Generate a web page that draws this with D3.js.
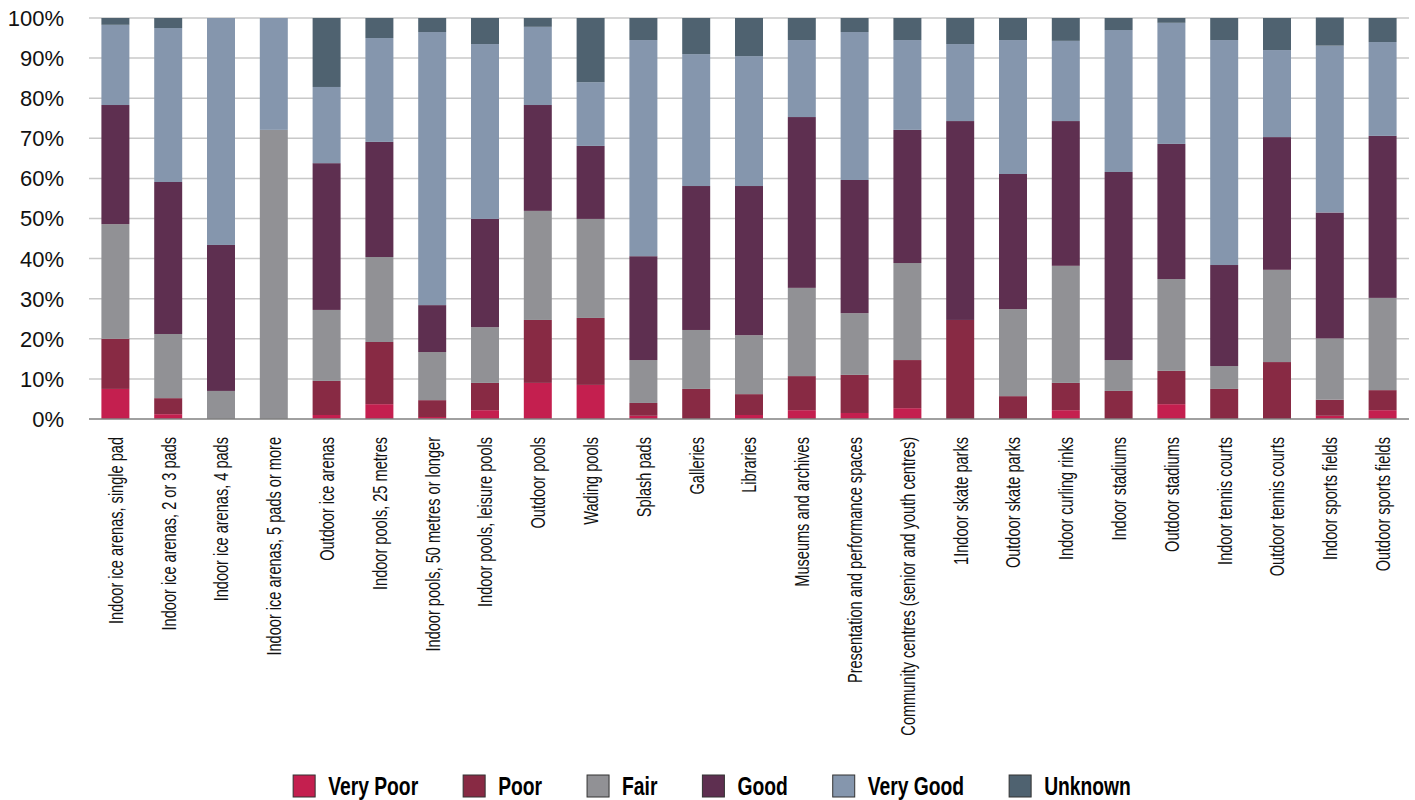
<!DOCTYPE html>
<html>
<head>
<meta charset="utf-8">
<script src="https://cdn.jsdelivr.net/npm/d3@7"></script>
<style>
  html, body { margin: 0; padding: 0; background: #fff; }
  svg { display: block; }
</style>
</head>
<body>
<svg id="chart" width="1415" height="800"></svg>
<script>
const categories = [
  "Indoor ice arenas, single pad",
  "Indoor ice arenas, 2 or 3 pads",
  "Indoor ice arenas, 4 pads",
  "Indoor ice arenas, 5 pads or more",
  "Outdoor ice arenas",
  "Indoor pools, 25 metres",
  "Indoor pools, 50 metres or longer",
  "Indoor pools, leisure pools",
  "Outdoor pools",
  "Wading pools",
  "Splash pads",
  "Galleries",
  "Libraries",
  "Museums and archives",
  "Presentation and performance spaces",
  "Community centres (senior and youth centres)",
  "1Indoor skate parks",
  "Outdoor skate parks",
  "Indoor curling rinks",
  "Indoor stadiums",
  "Outdoor stadiums",
  "Indoor tennis courts",
  "Outdoor tennis courts",
  "Indoor sports fields",
  "Outdoor sports fields"
];
const seriesNames = ["Very Poor", "Poor", "Fair", "Good", "Very Good", "Unknown"];
const veryPoor = [7.5, 1.2, 0, 0, 1.0, 3.7, 0.5, 2.2, 9.0, 8.5, 0.8, 0, 1.0, 2.2, 1.5, 2.7, 0, 0, 2.2, 0, 3.7, 0, 0, 0.8, 2.2];
const poor     = [12.5, 4.0, 0, 0, 8.5, 15.5, 4.2, 6.8, 15.7, 16.7, 3.2, 7.5, 5.2, 8.5, 9.5, 12.0, 24.7, 5.7, 6.8, 7.0, 8.3, 7.5, 14.2, 4.0, 5.0];
const fair     = [28.6, 16.0, 7.0, 72.1, 17.7, 21.2, 12.0, 13.9, 27.2, 24.7, 10.7, 14.7, 14.7, 22.0, 15.4, 24.2, 0, 21.7, 29.2, 7.7, 22.9, 5.7, 23.0, 15.3, 23.0];
const good     = [29.7, 37.9, 36.4, 0, 36.6, 28.7, 11.7, 27.0, 26.4, 18.2, 25.9, 35.9, 37.2, 42.6, 33.2, 33.2, 49.6, 33.7, 36.1, 46.9, 33.7, 25.2, 33.1, 31.4, 40.4];
const veryGood = [20.0, 38.4, 56.6, 27.9, 19.0, 25.9, 68.1, 43.6, 19.5, 15.9, 53.9, 32.9, 32.4, 19.2, 36.9, 22.4, 19.2, 33.4, 20.0, 35.4, 30.2, 56.1, 21.7, 41.6, 23.4];
const unknown  = [1.7, 2.5, 0, 0, 17.2, 5.0, 3.5, 6.5, 2.2, 16.0, 5.5, 9.0, 9.5, 5.5, 3.5, 5.5, 6.5, 5.5, 5.7, 3.0, 1.2, 5.5, 8.0, 7.0, 6.0];
const yTicks = [0, 10, 20, 30, 40, 50, 60, 70, 80, 90, 100];
const colors = ["#C41F4F", "#882A44", "#919195", "#5E2F50", "#8596AD", "#4F6270"];

const seriesValues = [veryPoor, poor, fair, good, veryGood, unknown];
const rows = categories.map((c, i) => {
  const r = { category: c };
  seriesNames.forEach((s, k) => r[s] = seriesValues[k][i]);
  return r;
});

const svg = d3.select("#chart");
const margin = { left: 89, right: 6, top: 18, bottom: 381 };
const W = 1415, H = 800;
const x = d3.scaleBand().domain(categories).range([margin.left, W - margin.right]).paddingInner(0.47).paddingOuter(0.235);
const y = d3.scaleLinear().domain([0, 100]).range([H - margin.bottom, margin.top]);

// gridlines
svg.append("g").selectAll("line").data(yTicks.filter(t => t > 0)).join("line")
  .attr("x1", margin.left).attr("x2", W - margin.right)
  .attr("y1", d => y(d)).attr("y2", d => y(d))
  .attr("stroke", "#c8c8c8").attr("stroke-width", 1.5);

// bars
const stacked = d3.stack().keys(seriesNames)(rows);
svg.append("g").selectAll("g").data(stacked).join("g")
  .attr("fill", (d, i) => colors[i])
  .selectAll("rect").data(d => d).join("rect")
  .attr("x", d => x(d.data.category))
  .attr("width", x.bandwidth())
  .attr("y", d => y(d[1]))
  .attr("height", d => Math.max(0, y(d[0]) - y(d[1])));

// baseline
svg.append("line")
  .attr("x1", margin.left).attr("x2", W - margin.right)
  .attr("y1", y(0)).attr("y2", y(0))
  .attr("stroke", "#808080").attr("stroke-width", 1.5);

// y axis labels
svg.append("g").selectAll("text").data(yTicks).join("text")
  .attr("x", 64).attr("y", d => y(d))
  .attr("dy", "0.36em")
  .attr("text-anchor", "end")
  .attr("font-family", "Liberation Sans, Arial, sans-serif")
  .attr("font-size", 22)
  .attr("fill", "#111")
  .text(d => d + "%");

// category labels (condensed look via textLength)
const catFont = "Liberation Sans, Arial, sans-serif";
const catLabels = svg.append("g").selectAll("text").data(categories).join("text")
  .attr("text-anchor", "end")
  .attr("dy", "0.35em")
  .attr("font-family", catFont)
  .attr("font-size", 21)
  .attr("fill", "#111")
  .attr("transform", d => `translate(${x(d) + x.bandwidth() / 2}, ${y(0) + 18}) rotate(-90)`)
  .text(d => d);
const catScale = 187 / catLabels.node().getComputedTextLength();
catLabels.each(function() {
  const w = this.getComputedTextLength();
  d3.select(this).attr("textLength", w * catScale).attr("lengthAdjust", "spacingAndGlyphs");
});

// legend
const legend = svg.append("g");
const items = legend.selectAll("g").data(seriesNames).join("g");
items.append("rect").attr("width", 22).attr("height", 22).attr("y", -11)
  .attr("fill", (d, i) => colors[i]).attr("stroke", "#333").attr("stroke-width", 1);
const ltexts = items.append("text").attr("x", 35).attr("dy", "0.36em")
  .attr("font-family", catFont)
  .attr("font-weight", "bold").attr("font-size", 26).attr("fill", "#000")
  .text(d => d);
const lScale = 90 / ltexts.node().getComputedTextLength();
const widths = [];
ltexts.each(function() {
  const w = this.getComputedTextLength() * lScale;
  d3.select(this).attr("textLength", w).attr("lengthAdjust", "spacingAndGlyphs");
  widths.push(35 + w);
});
const gap = 45;
const total = d3.sum(widths) + gap * (widths.length - 1);
let cx = 712 - total / 2;
items.attr("transform", (d, i) => {
  const t = `translate(${cx},786)`;
  cx += widths[i] + gap;
  return t;
});
</script>
</body>
</html>
